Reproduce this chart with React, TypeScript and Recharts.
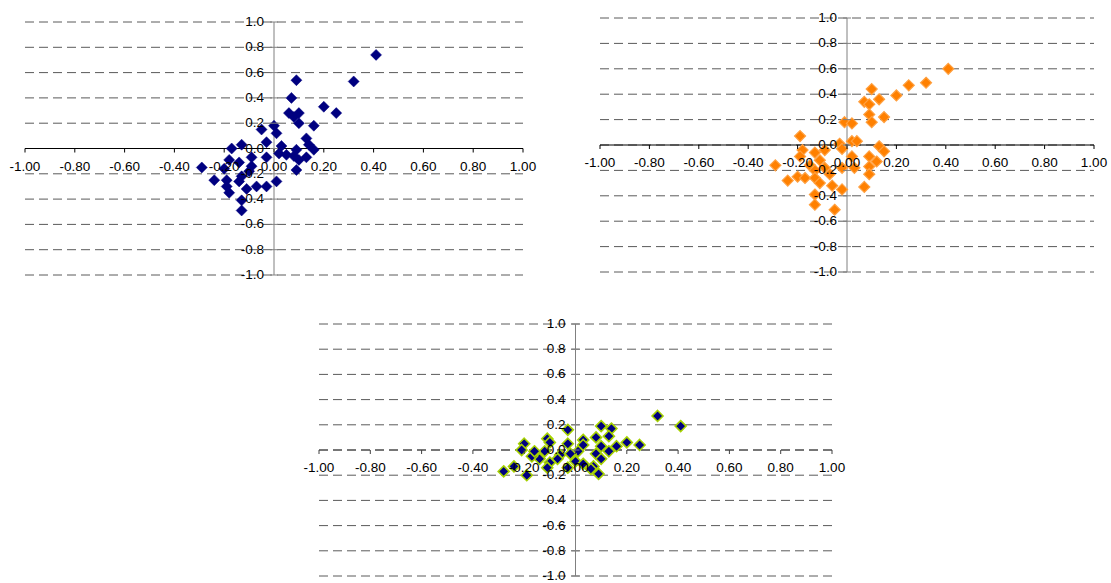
import React from 'react';
import { ScatterChart, Scatter, XAxis, YAxis, CartesianGrid, ReferenceLine } from 'recharts';

const xTicks = [-1, -0.8, -0.6, -0.4, -0.2, 0, 0.2, 0.4, 0.6, 0.8, 1];
const yTicks = [-1, -0.8, -0.6, -0.4, -0.2, 0, 0.2, 0.4, 0.6, 0.8, 1];

const c1X = [0.41, 0.32, 0.09, 0.07, 0.2, 0.25, 0.06, 0.1, 0.08, 0.1, 0.16, 0.0, -0.05, 0.01, 0.13, -0.03, 0.14, 0.03, -0.17, -0.13, 0.16, 0.09, -0.09, -0.03, 0.02, 0.05, 0.08, 0.13, 0.1, -0.18, -0.29, -0.2, -0.14, -0.09, 0.09, -0.1, -0.24, -0.19, -0.14, -0.13, 0.01, -0.19, -0.18, -0.11, -0.07, -0.03, -0.13, -0.13];
const c1Y = [0.74, 0.53, 0.54, 0.4, 0.33, 0.28, 0.28, 0.28, 0.25, 0.2, 0.18, 0.18, 0.15, 0.12, 0.08, 0.05, 0.03, 0.02, 0.0, 0.03, -0.01, -0.01, -0.07, -0.07, -0.04, -0.05, -0.06, -0.07, -0.09, -0.09, -0.15, -0.16, -0.11, -0.14, -0.17, -0.18, -0.25, -0.25, -0.26, -0.22, -0.26, -0.3, -0.35, -0.32, -0.3, -0.3, -0.41, -0.49];

const c2X = [0.41, 0.32, 0.25, 0.2, 0.1, 0.13, 0.07, 0.09, 0.09, 0.15, 0.1, -0.01, 0.02, -0.19, -0.03, 0.02, 0.04, -0.02, 0.13, 0.15, -0.18, -0.13, -0.09, -0.19, 0.02, 0.09, -0.11, -0.29, 0.12, 0.09, 0.03, -0.15, -0.09, -0.02, -0.13, -0.07, 0.09, -0.2, -0.17, -0.24, -0.13, -0.11, -0.06, -0.02, 0.07, -0.13, -0.13, -0.05];
const c2Y = [0.6, 0.49, 0.47, 0.39, 0.44, 0.36, 0.34, 0.32, 0.24, 0.22, 0.18, 0.18, 0.17, 0.07, 0.01, 0.03, 0.03, -0.03, -0.01, -0.05, -0.04, -0.06, -0.04, -0.09, -0.09, -0.09, -0.12, -0.16, -0.13, -0.17, -0.18, -0.16, -0.18, -0.18, -0.2, -0.23, -0.23, -0.25, -0.26, -0.28, -0.26, -0.3, -0.32, -0.35, -0.33, -0.39, -0.47, -0.51];

const c3X = [0.41, 0.32, 0.25, 0.2, 0.14, 0.13, 0.1, 0.08, 0.1, 0.16, 0.13, 0.08, 0.1, 0.07, 0.09, 0.03, 0.03, 0.01, -0.03, -0.03, -0.02, 0.0, -0.03, 0.03, 0.06, -0.06, -0.07, -0.11, -0.1, -0.12, -0.14, -0.1, -0.11, -0.2, -0.21, -0.17, -0.16, -0.28, -0.24, -0.19];
const c3Y = [0.19, 0.27, 0.04, 0.06, 0.17, 0.11, 0.19, 0.1, 0.03, 0.03, -0.01, -0.03, -0.07, -0.13, -0.19, 0.08, 0.04, -0.01, 0.16, 0.05, -0.03, -0.09, -0.14, -0.11, -0.15, -0.04, -0.07, 0.09, 0.06, -0.01, -0.07, -0.1, -0.14, 0.05, 0.0, -0.05, -0.01, -0.17, -0.13, -0.2];

const toPoints = (xs: number[], ys: number[]) => xs.map((x, i) => ({ x, y: ys[i] }));

const FONT = '"Liberation Sans", Arial, sans-serif';
const GRID = '#5a5a5a';

type PanelProps = {
  left: number; top: number; width: number; height: number;
  margin: { top: number; right: number; bottom: number; left: number };
  data: { x: number; y: number }[];
  fill: string; stroke: string; strokeWidth: number;
  axisColor: string; dashedAxis?: boolean;
};

function Panel(props: PanelProps) {
  const { left, top, width, height, margin, data, fill, stroke, strokeWidth, axisColor, dashedAxis } = props;
  const plotW = width - margin.left - margin.right - 1;
  const plotH = height - margin.top - margin.bottom - 1;

  const XTick = (p: any) => {
    const cx = p.x;
    const cy = p.y - plotH / 2;
    const v = p.payload.value as number;
    return (
      <g>
        <line x1={cx} x2={cx} y1={cy} y2={cy + 4} stroke={axisColor} strokeWidth={1} />
        <text x={cx} y={cy + 22} textAnchor="middle" fontSize={13.5} fontFamily={FONT} fill="#000">
          {Math.abs(v) < 1e-9 ? '0.00' : v.toFixed(2)}
        </text>
      </g>
    );
  };

  const YTick = (p: any) => {
    const cx = p.x + plotW / 2;
    const cy = p.y;
    const v = p.payload.value as number;
    return (
      <g>
        <line x1={cx - 4} x2={cx + 4} y1={cy} y2={cy} stroke="#808080" strokeWidth={1} />
        <text x={cx - 10} y={cy + 4} textAnchor="end" fontSize={13.5} fontFamily={FONT} fill="#000">
          {Math.abs(v) < 1e-9 ? '0.0' : v.toFixed(1)}
        </text>
      </g>
    );
  };

  const Diamond = (p: any) => {
    const { cx, cy } = p;
    const r = 5.5;
    return (
      <polygon
        points={`${cx},${cy - r} ${cx + r},${cy} ${cx},${cy + r} ${cx - r},${cy}`}
        fill={fill}
        stroke={stroke}
        strokeWidth={strokeWidth}
      />
    );
  };

  return (
    <div style={{ position: 'absolute', left, top, width, height }}>
      <ScatterChart width={width} height={height} margin={margin}>
        <CartesianGrid horizontal vertical={false} stroke={GRID} strokeDasharray="9 5" />
        <XAxis
          type="number"
          dataKey="x"
          domain={[-1, 1]}
          ticks={xTicks}
          height={1}
          tickSize={0}
          tickMargin={0}
          axisLine={false}
          tickLine={false}
          tick={XTick}
          interval={0}
          allowDataOverflow
        />
        <YAxis
          type="number"
          dataKey="y"
          domain={[-1, 1]}
          ticks={yTicks}
          width={1}
          tickSize={0}
          tickMargin={0}
          axisLine={false}
          tickLine={false}
          tick={YTick}
          interval={0}
          allowDataOverflow
        />
        <ReferenceLine x={0} stroke="#808080" strokeWidth={1} />
        <ReferenceLine
          y={0}
          stroke={axisColor}
          strokeWidth={1}
          strokeDasharray={dashedAxis ? '9 5' : undefined}
        />
        <Scatter data={data} shape={Diamond} isAnimationActive={false} />
      </ScatterChart>
    </div>
  );
}

export default function App() {
  return (
    <div style={{ position: 'absolute', left: 0, top: 0, width: 1111, height: 583, background: '#fff' }}>
      <Panel
        left={0} top={0} width={540} height={290}
        margin={{ top: 22, right: 17, bottom: 14, left: 24 }}
        data={toPoints(c1X, c1Y)}
        fill="#000080" stroke="#000080" strokeWidth={0.5}
        axisColor="#000"
      />
      <Panel
        left={560} top={0} width={551} height={290}
        margin={{ top: 18, right: 17, bottom: 17, left: 39 }}
        data={toPoints(c2X, c2Y)}
        fill="#FF8000" stroke="#FFA040" strokeWidth={1.2}
        axisColor="#000"
      />
      <Panel
        left={290} top={297} width={560} height={286}
        margin={{ top: 27, right: 18, bottom: 6, left: 28 }}
        data={toPoints(c3X, c3Y)}
        fill="#000080" stroke="#A6D200" strokeWidth={1.6}
        axisColor="#404040" dashedAxis
      />
    </div>
  );
}
